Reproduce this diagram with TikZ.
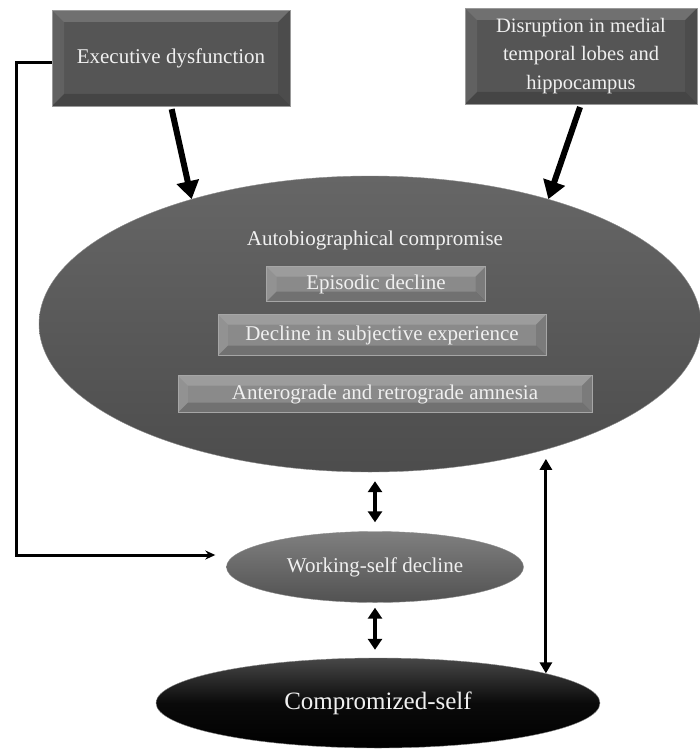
\documentclass[tikz,border=0pt]{standalone}
\usepackage{fontspec}
\setmainfont{Liberation Serif}
\usetikzlibrary{shapes.geometric, arrows.meta}
\definecolor{boxgray}{RGB}{85, 85, 85}
\definecolor{bargray}{RGB}{138, 138, 138}
\definecolor{ovaltext}{RGB}{240, 240, 240}

% bevelled edges of the rectangular boxes
\newcommand{\bevel}[1]{%
  \fill[white, opacity=.16] (path picture bounding box.north west) -- (path picture bounding box.north east)
    -- ([shift={(-#1,-#1)}]path picture bounding box.north east) -- ([shift={(#1,-#1)}]path picture bounding box.north west) -- cycle;
  \fill[white, opacity=.07] (path picture bounding box.north west) -- ([shift={(#1,-#1)}]path picture bounding box.north west)
    -- ([shift={(#1,#1)}]path picture bounding box.south west) -- (path picture bounding box.south west) -- cycle;
  \fill[black, opacity=.18] (path picture bounding box.south west) -- (path picture bounding box.south east)
    -- ([shift={(-#1,#1)}]path picture bounding box.south east) -- ([shift={(#1,#1)}]path picture bounding box.south west) -- cycle;
  \fill[black, opacity=.10] (path picture bounding box.north east) -- ([shift={(-#1,-#1)}]path picture bounding box.north east)
    -- ([shift={(-#1,#1)}]path picture bounding box.south east) -- (path picture bounding box.south east) -- cycle;
}

\begin{document}
\begin{tikzpicture}[x=1pt, y=-1pt,
  topbox/.style={draw=black!40, fill=boxgray, text=ovaltext, minimum width=238pt, minimum height=96pt, inner sep=0pt, align=center, font=\fontsize{21}{28.5}\selectfont, path picture={\bevel{12pt}}},
  bar/.style={draw=black!35, fill=bargray, text=ovaltext, inner sep=0pt, font=\fontsize{21}{24}\selectfont, path picture={\bevel{10pt}}},
  oval/.style={ellipse, draw=black!45, inner sep=0pt, text=ovaltext},
  fat/.style={line width=6pt, -{Triangle[width=22pt,length=18pt]}},
  both/.style={line width=4pt, {Triangle[width=14pt,length=11pt]}-{Triangle[width=14pt,length=11pt]}}
]
  \useasboundingbox (0,0) rectangle (700,749);

  \node[topbox] (exec) at (171, 58) {Executive dysfunction};
  \node[topbox, minimum width=232pt, font=\fontsize{20.5}{28.5}\selectfont] (mtl) at (581, 56) {Disruption in medial\\temporal lobes and\\hippocampus};

  \node[oval, minimum width=662pt, minimum height=296pt, top color=black!60, bottom color=black!70, middle color=black!65] (auto) at (370, 324) {};
  \node[text=ovaltext, font=\fontsize{21}{24}\selectfont] (autotitle) at (375, 240) {Autobiographical compromise};
  \node[bar, minimum width=219pt, minimum height=35pt] (epi) at (376, 284) {Episodic decline};
  \node[bar, minimum width=328pt, minimum height=41pt] (subj) at (382, 335) {Decline in subjective experience};
  \node[bar, minimum width=414pt, minimum height=37pt] (amn) at (385, 394) {Anterograde and retrograde amnesia};

  \node[oval, minimum width=297pt, minimum height=71pt, top color=black!50, bottom color=black!68, font=\fontsize{21}{24}\selectfont] (ws) at (375, 567) {Working-self decline};
  \node[oval, minimum width=444pt, minimum height=90pt, top color=black!72, bottom color=black, middle color=black!96, font=\fontsize{25}{28}\selectfont] (comp) at (378, 703) {Compromized-self};

  \draw[fat, shorten <=3pt] (exec.south) -- (auto.145);
  \draw[fat, shorten <=3pt] (mtl.south) -- (auto.35);

  \draw[both] ([yshift=-9pt]auto.south -| ws.north) -- ([yshift=9pt]ws.north);
  \draw[both] ([yshift=-5pt]ws.south) -- ([yshift=8pt]comp.north -| ws.south);
  \draw[line width=3pt, {Triangle[width=12pt,length=11pt]}-{Triangle[width=12pt,length=11pt]}] (comp.10) -- ([yshift=-10pt]comp.10 |- auto.-35);

  \coordinate (fb) at (16, 555);
  \draw[line width=3pt, -{Stealth[length=10pt,width=9pt]}] ([yshift=-5pt]exec.west) -| (fb) -- ([xshift=-11pt,yshift=12pt]ws.west);
\end{tikzpicture}
\end{document}
